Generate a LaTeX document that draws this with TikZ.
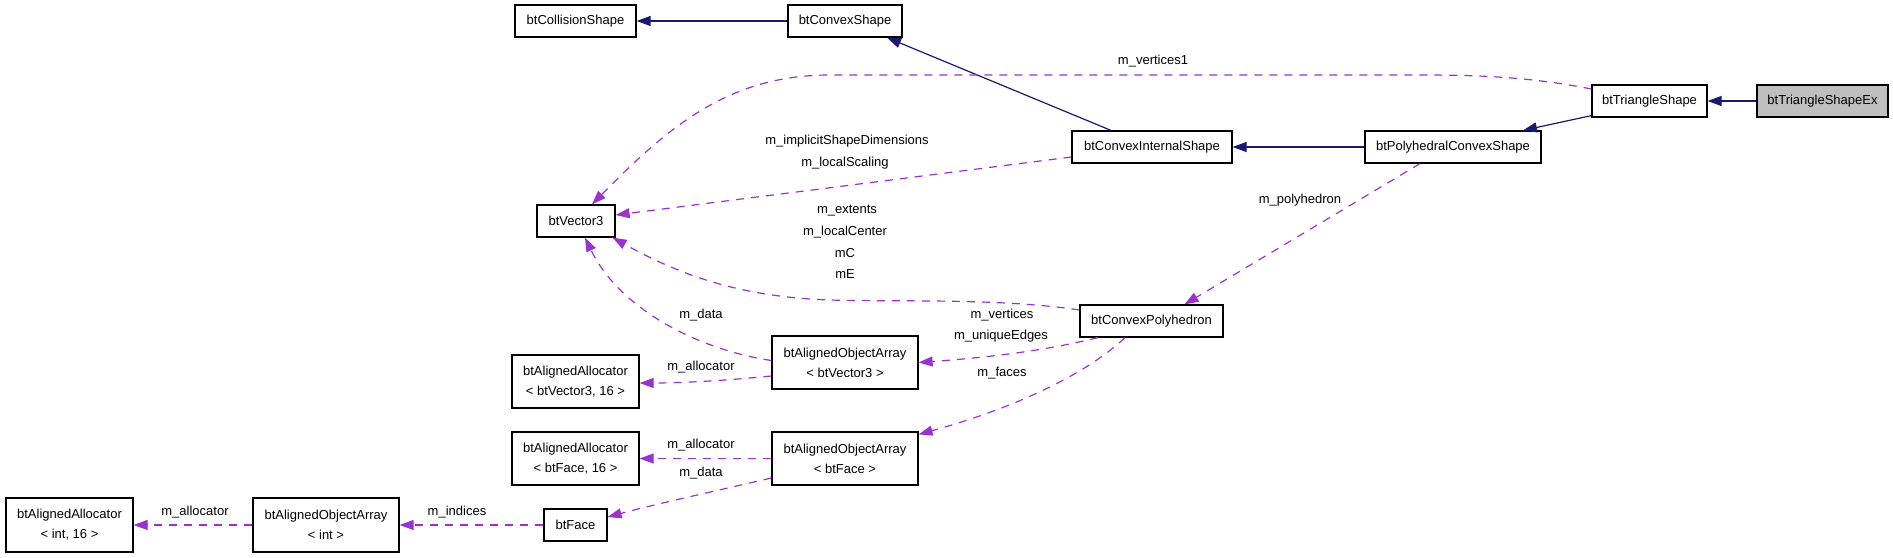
\documentclass[tikz,border=0pt]{standalone}
\usepackage{fontspec}
\setmainfont{Liberation Sans}
\usetikzlibrary{arrows.meta,calc}
\definecolor{navyc}{HTML}{191970}
\definecolor{orchidc}{HTML}{9A32CD}
\definecolor{grayfill}{HTML}{BFBFBF}
\tikzset{
 cls/.style={draw=black, line width=1.2pt, fill=white, inner sep=0pt, font=\fontsize{13pt}{20pt}\selectfont, align=center},
 lbl/.style={inner sep=0pt, font=\fontsize{13pt}{15pt}\selectfont},
 inh/.style={draw=navyc, line width=1.2pt, -{Triangle[length=14pt,width=10pt,fill=navyc]}},
 usedge/.style={draw=orchidc, line width=1.2pt, dash pattern=on 8pt off 7pt, -{Triangle[length=14pt,width=10pt,fill=orchidc]}},
}
\begin{document}
\begin{tikzpicture}[x=1pt,y=-1pt]
\useasboundingbox (0,0) rectangle (1893,557);
% classes
\node[cls, minimum width=121pt, minimum height=32pt] (CS) at (575.5,21) {btCollisionShape};
\node[cls, minimum width=114pt, minimum height=32pt] (CvS) at (845,21) {btConvexShape};
\node[cls, minimum width=160pt, minimum height=32pt] (CIS) at (1152,147) {btConvexInternalShape};
\node[cls, minimum width=176pt, minimum height=32pt] (PCS) at (1453,147) {btPolyhedralConvexShape};
\node[cls, minimum width=115pt, minimum height=32pt] (TS) at (1649.5,101) {btTriangleShape};
\node[cls, minimum width=131pt, minimum height=32pt, fill=grayfill] (TSE) at (1822.5,101) {btTriangleShapeEx};
\node[cls, minimum width=78pt, minimum height=32pt] (V3) at (576,221) {btVector3};
\node[cls, minimum width=143pt, minimum height=32pt] (CP) at (1151.5,321) {btConvexPolyhedron};
\node[cls, minimum width=146pt, minimum height=53pt] (AOAV) at (845,362.5) {btAlignedObjectArray\\< btVector3 >};
\node[cls, minimum width=127pt, minimum height=53pt] (AAV) at (575.5,381.5) {btAlignedAllocator\\< btVector3, 16 >};
\node[cls, minimum width=127pt, minimum height=53pt] (AAF) at (575.5,458.5) {btAlignedAllocator\\< btFace, 16 >};
\node[cls, minimum width=146pt, minimum height=53pt] (AOAF) at (845,458.5) {btAlignedObjectArray\\< btFace >};
\node[cls, minimum width=127pt, minimum height=54pt] (AAI) at (69.5,525) {btAlignedAllocator\\< int, 16 >};
\node[cls, minimum width=146pt, minimum height=54pt] (AOAI) at (326,525) {btAlignedObjectArray\\< int >};
\node[cls, minimum width=63pt, minimum height=32pt] (Face) at (575.5,525) {btFace};
% inheritance
\draw[inh] (CvS.west) -- (CS.east);
\draw[inh] ([xshift=-41pt]CIS.north) -- ([xshift=42pt]CvS.south);
\draw[inh] (PCS.west) -- (CIS.east);
\draw[inh] ([yshift=2pt]TS.south west) -- ([xshift=70pt]PCS.north);
\draw[inh] (TSE.west) -- (TS.east);
% usage
\draw[usedge] ([yshift=12pt]TS.west) .. controls (1530,77) and (1480,75) .. (1420,75) -- (830,75) .. controls (730,75) and (670,125) .. ([xshift=16pt]V3.north);
\draw[usedge] ([yshift=-10pt]CIS.west) -- ([yshift=6pt]V3.east);
\draw[usedge] ([yshift=11pt]CP.west) .. controls (1000,298) and (900,302) .. (830,300) .. controls (740,297) and (680,275) .. ([xshift=-3pt]V3.south east);
\draw[usedge] ([yshift=2pt]AOAV.west) .. controls (700,350) and (620,310) .. ([xshift=9pt]V3.south);
\draw[usedge] ([yshift=-13.5pt]AOAV.west) .. controls (720,381) and (680,383) .. ([yshift=-1.5pt]AAV.east);
\draw[usedge] ([xshift=-53.5pt]CP.south) .. controls (1040,352) and (980,358) .. (AOAV.east);
\draw[usedge] ([xshift=-26.5pt]CP.south) .. controls (1080,380) and (1000,412) .. ([yshift=-3pt]AOAF.north east);
\draw[usedge] ([xshift=-33pt]PCS.south) -- ([xshift=33pt]CP.north);
\draw[usedge] (AOAF.west) -- (AAF.east);
\draw[usedge] ([yshift=-19.5pt]AOAF.west) .. controls (720,490) and (660,503) .. ([yshift=8pt]Face.east);
\draw[usedge] (Face.west) -- (AOAI.east);
\draw[usedge] (AOAI.west) -- (AAI.east);
% labels
\node[lbl] (Lv1) at (1153,61) {m\_vertices1};
\node[lbl] (Lisd) at (847,141) {m\_implicitShapeDimensions};
\node[lbl] (Lls) at (845,163) {m\_localScaling};
\node[lbl] (Lext) at (847,211) {m\_extents};
\node[lbl] (Llc) at (845,232) {m\_localCenter};
\node[lbl] (LmC) at (845,253) {mC};
\node[lbl] (LmE) at (845,274) {mE};
\node[lbl] (Lpoly) at (1300,200) {m\_polyhedron};
\node[lbl] (Lvert) at (1002,315) {m\_vertices};
\node[lbl] (Lue) at (1001,336) {m\_uniqueEdges};
\node[lbl] (Lfaces) at (1002,373) {m\_faces};
\node[lbl] (Ldata1) at (701,315) {m\_data};
\node[lbl] (Lalloc1) at (701,367) {m\_allocator};
\node[lbl] (Lalloc2) at (701,445) {m\_allocator};
\node[lbl] (Ldata2) at (701,473) {m\_data};
\node[lbl] (Lind) at (457,512) {m\_indices};
\node[lbl] (Lalloc3) at (195,512) {m\_allocator};
\end{tikzpicture}
\end{document}
